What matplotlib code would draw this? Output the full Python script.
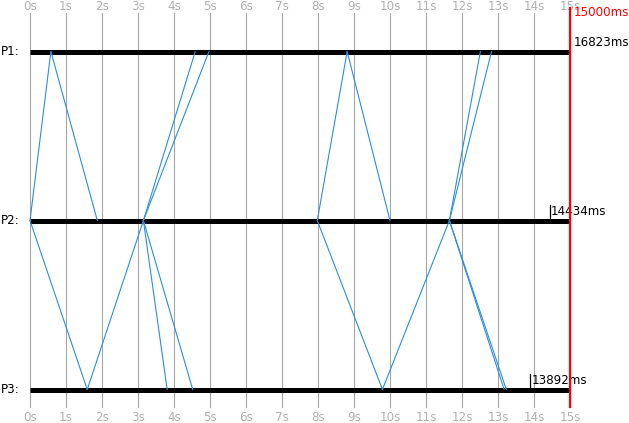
import matplotlib
matplotlib.use("Agg")
import matplotlib.pyplot as plt

# ---- data ----
processes = ["P1", "P2", "P3"]
end_times_ms = [16823, 14434, 13892]
limit_ms = 15000
tick_seconds = list(range(0, 16))
tick_labels = [f"{s}s" for s in tick_seconds]

# messages: source process index, send time (s), destination index, receive time (s)
msg_src  = [1, 0, 1, 1, 1, 0, 1, 1,   1, 2, 1, 1, 1, 2, 1, 1]
msg_send = [0.00, 0.58, 3.15, 3.15, 7.98, 8.81, 11.65, 11.65,
            0.00, 1.59, 3.15, 3.15, 7.98, 9.79, 11.65, 11.65]
msg_dst  = [0, 1, 0, 0, 0, 1, 0, 0,   2, 1, 2, 2, 2, 1, 2, 2]
msg_recv = [0.58, 1.87, 4.59, 4.97, 8.81, 10.00, 12.51, 12.82,
            1.59, 3.15, 3.81, 4.52, 9.79, 11.65, 13.17, 13.23]

# ---- figure ----
W, H, DPI = 629, 423, 100
fig = plt.figure(figsize=(W / DPI, H / DPI), dpi=DPI)
ax = fig.add_axes([0, 0, 1, 1])
ax.set_axis_off()

px_per_s = 36.0
x0_px = 30.0
px_per_proc = 169.0
y0_px = 51.5
ax.set_xlim(-x0_px / px_per_s, (W - x0_px) / px_per_s)
ax.set_ylim((H - y0_px) / px_per_proc, -y0_px / px_per_proc)

limit_s = limit_ms / 1000.0
grid_top = (13 - y0_px) / px_per_proc
grid_bot = (407 - y0_px) / px_per_proc
label_top = (6 - y0_px) / px_per_proc
label_bot = (417 - y0_px) / px_per_proc

gray_line = "#a6a6a6"
gray_text = "#b0b0b0"
fs = 8.6

# grid lines and tick labels
for s, lab in zip(tick_seconds, tick_labels):
    ax.plot([s, s], [grid_top, grid_bot], color=gray_line, lw=0.8, zorder=1)
    ax.text(s, label_top, lab, color=gray_text, fontsize=fs,
            ha="center", va="center", zorder=2)
    ax.text(s, label_bot, lab, color=gray_text, fontsize=fs,
            ha="center", va="center", zorder=2)

# process timelines
for i, (name, end_ms) in enumerate(zip(processes, end_times_ms)):
    ax.plot([0, limit_s], [i, i], color="black", lw=3.6,
            solid_capstyle="butt", zorder=3)
    ax.text((1 - x0_px) / px_per_s, i, name + ":", fontsize=fs, ha="left",
            va="center", color="black", zorder=5)
    end_s = end_ms / 1000.0
    dy = -9 / px_per_proc
    if end_s <= limit_s:
        ax.plot([end_s, end_s], [i - 16 / px_per_proc, i - 3 / px_per_proc],
                color="black", lw=0.9, zorder=5)
        ax.text(end_s + 1.5 / px_per_s, i + dy, f"{end_ms}ms", fontsize=fs,
                ha="left", va="center", color="black", zorder=5)
    else:
        ax.text(limit_s + 4 / px_per_s, i + dy, f"{end_ms}ms", fontsize=fs,
                ha="left", va="center", color="black", zorder=5)

# messages
for s, ts, d, tr in zip(msg_src, msg_send, msg_dst, msg_recv):
    ax.plot([ts, tr], [s, d], color="#2a8fdb", lw=0.8, zorder=4)

# limit line
ax.plot([limit_s, limit_s], [(8 - y0_px) / px_per_proc, grid_bot],
        color="red", lw=1.6, zorder=6)
ax.text(limit_s + 4 / px_per_s, (12 - y0_px) / px_per_proc, f"{limit_ms}ms",
        fontsize=fs, color="red", ha="left", va="center", zorder=7)

fig.savefig("out.png", dpi=DPI, facecolor="white")
